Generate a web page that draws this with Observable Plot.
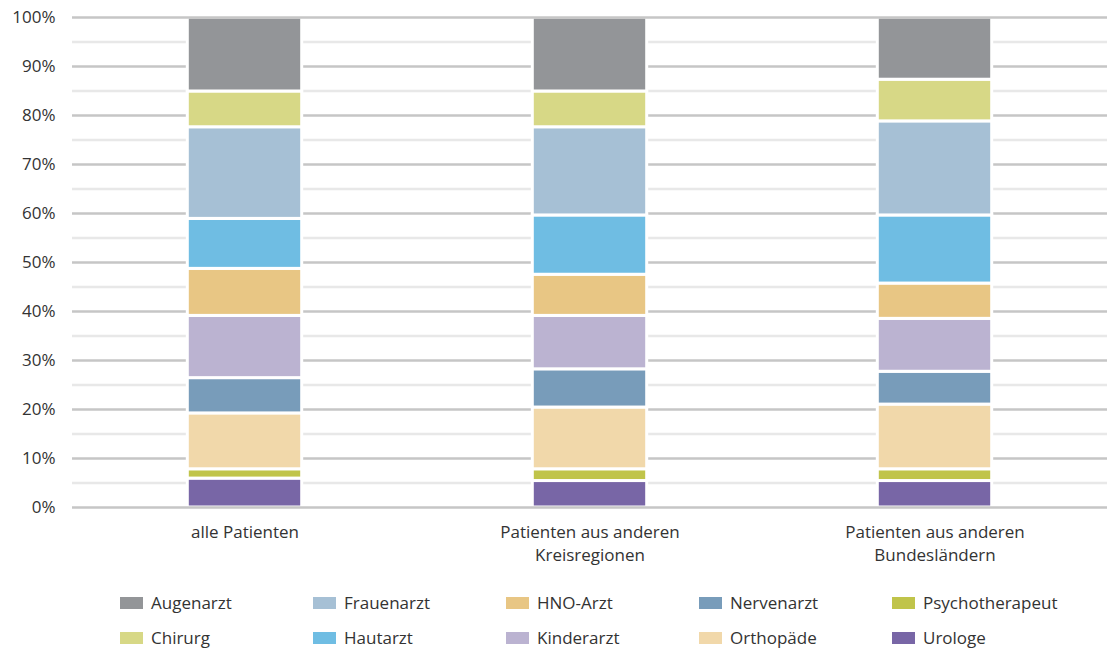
<!DOCTYPE html>
<html>
<head>
<meta charset="utf-8">
<script src="https://cdn.jsdelivr.net/npm/d3@7"></script>
<script src="https://cdn.jsdelivr.net/npm/@observablehq/plot@0.6"></script>
<style>
  html, body { margin: 0; padding: 0; background: #fff; }
  body { width: 1109px; height: 652px; overflow: hidden; font-family: "Open Sans", sans-serif; }
  #legend { display: grid; grid-auto-flow: column; grid-template-rows: 35px 35px; grid-template-columns: repeat(5, 193px);
            padding-left: 120px; margin-top: 10px; color: #333; font-size: 17px; }
  .item { display: flex; align-items: center; }
  .sw { width: 23px; height: 12px; margin-right: 8px; flex: none; }
</style>
</head>
<body>
<div id="chart"></div>
<div id="legend"></div>
<script>
const groups = ["alle Patienten", "Patienten aus anderen\nKreisregionen", "Patienten aus anderen\nBundesländern"];
const categories = ["Augenarzt","Chirurg","Frauenarzt","Hautarzt","HNO-Arzt","Kinderarzt","Nervenarzt","Orthopäde","Psychotherapeut","Urologe"];
const colors = ["#939598","#d7d886","#a6c0d5","#6fbde3","#e8c684","#bbb3d1","#789cba","#f1d8aa","#c0c44a","#7866a6"];
const alle = [15.1, 7.3, 18.7, 10.2, 9.6, 12.7, 7.2, 11.4, 1.9, 5.9];
const kreis = [15.1, 7.3, 18.0, 12.1, 8.4, 10.9, 7.8, 12.6, 2.4, 5.4];
const bund = [12.7, 8.5, 19.2, 13.9, 7.2, 10.8, 6.7, 13.2, 2.4, 5.4];
const yTicks = [0,10,20,30,40,50,60,70,80,90,100];
const yMinor = [5,15,25,35,45,55,65,75,85,95];

const series = [alle, kreis, bund];
const data = [];
groups.forEach((g, gi) => {
  for (let i = categories.length - 1; i >= 0; i--) {
    data.push({group: g, cat: categories[i], value: series[gi][i]});
  }
});

const chart = Plot.plot({
  width: 1109,
  height: 575,
  marginLeft: 72,
  marginRight: 2,
  marginTop: 17,
  marginBottom: 68,
  style: {fontFamily: "Open Sans, sans-serif", fontSize: "17px", color: "#333", background: "#fff"},
  x: {domain: groups, padding: 0, label: null},
  y: {domain: [0, 100], label: null},
  color: {domain: categories, range: colors},
  marks: [
    Plot.ruleY(yMinor, {stroke: "#e8e8e8", strokeWidth: 2.5}),
    Plot.ruleY(yTicks.slice(1, -1), {stroke: "#c6c6c6", strokeWidth: 2.5}),
    Plot.barY(data, Plot.stackY({order: null}, {x: "group", y: "value", fill: "cat", stroke: "white", strokeWidth: 3, insetLeft: 115.3, insetRight: 115.3})),
    Plot.ruleY([0, 100], {stroke: "#c6c6c6", strokeWidth: 2.5}),
    Plot.axisY({ticks: yTicks, tickSize: 0, tickPadding: 17, tickFormat: d => d + "%", fill: "#333", label: null}),
    Plot.axisX({tickSize: 0, tickPadding: 15, fill: "#333", lineHeight: 1.32, label: null})
  ]
});
document.getElementById("chart").appendChild(chart);

const legend = document.getElementById("legend");
categories.forEach((c, i) => {
  const item = document.createElement("div");
  item.className = "item";
  const sw = document.createElement("span");
  sw.className = "sw";
  sw.style.background = colors[i];
  const t = document.createElement("span");
  t.textContent = c;
  item.appendChild(sw);
  item.appendChild(t);
  legend.appendChild(item);
});
</script>
</body>
</html>
